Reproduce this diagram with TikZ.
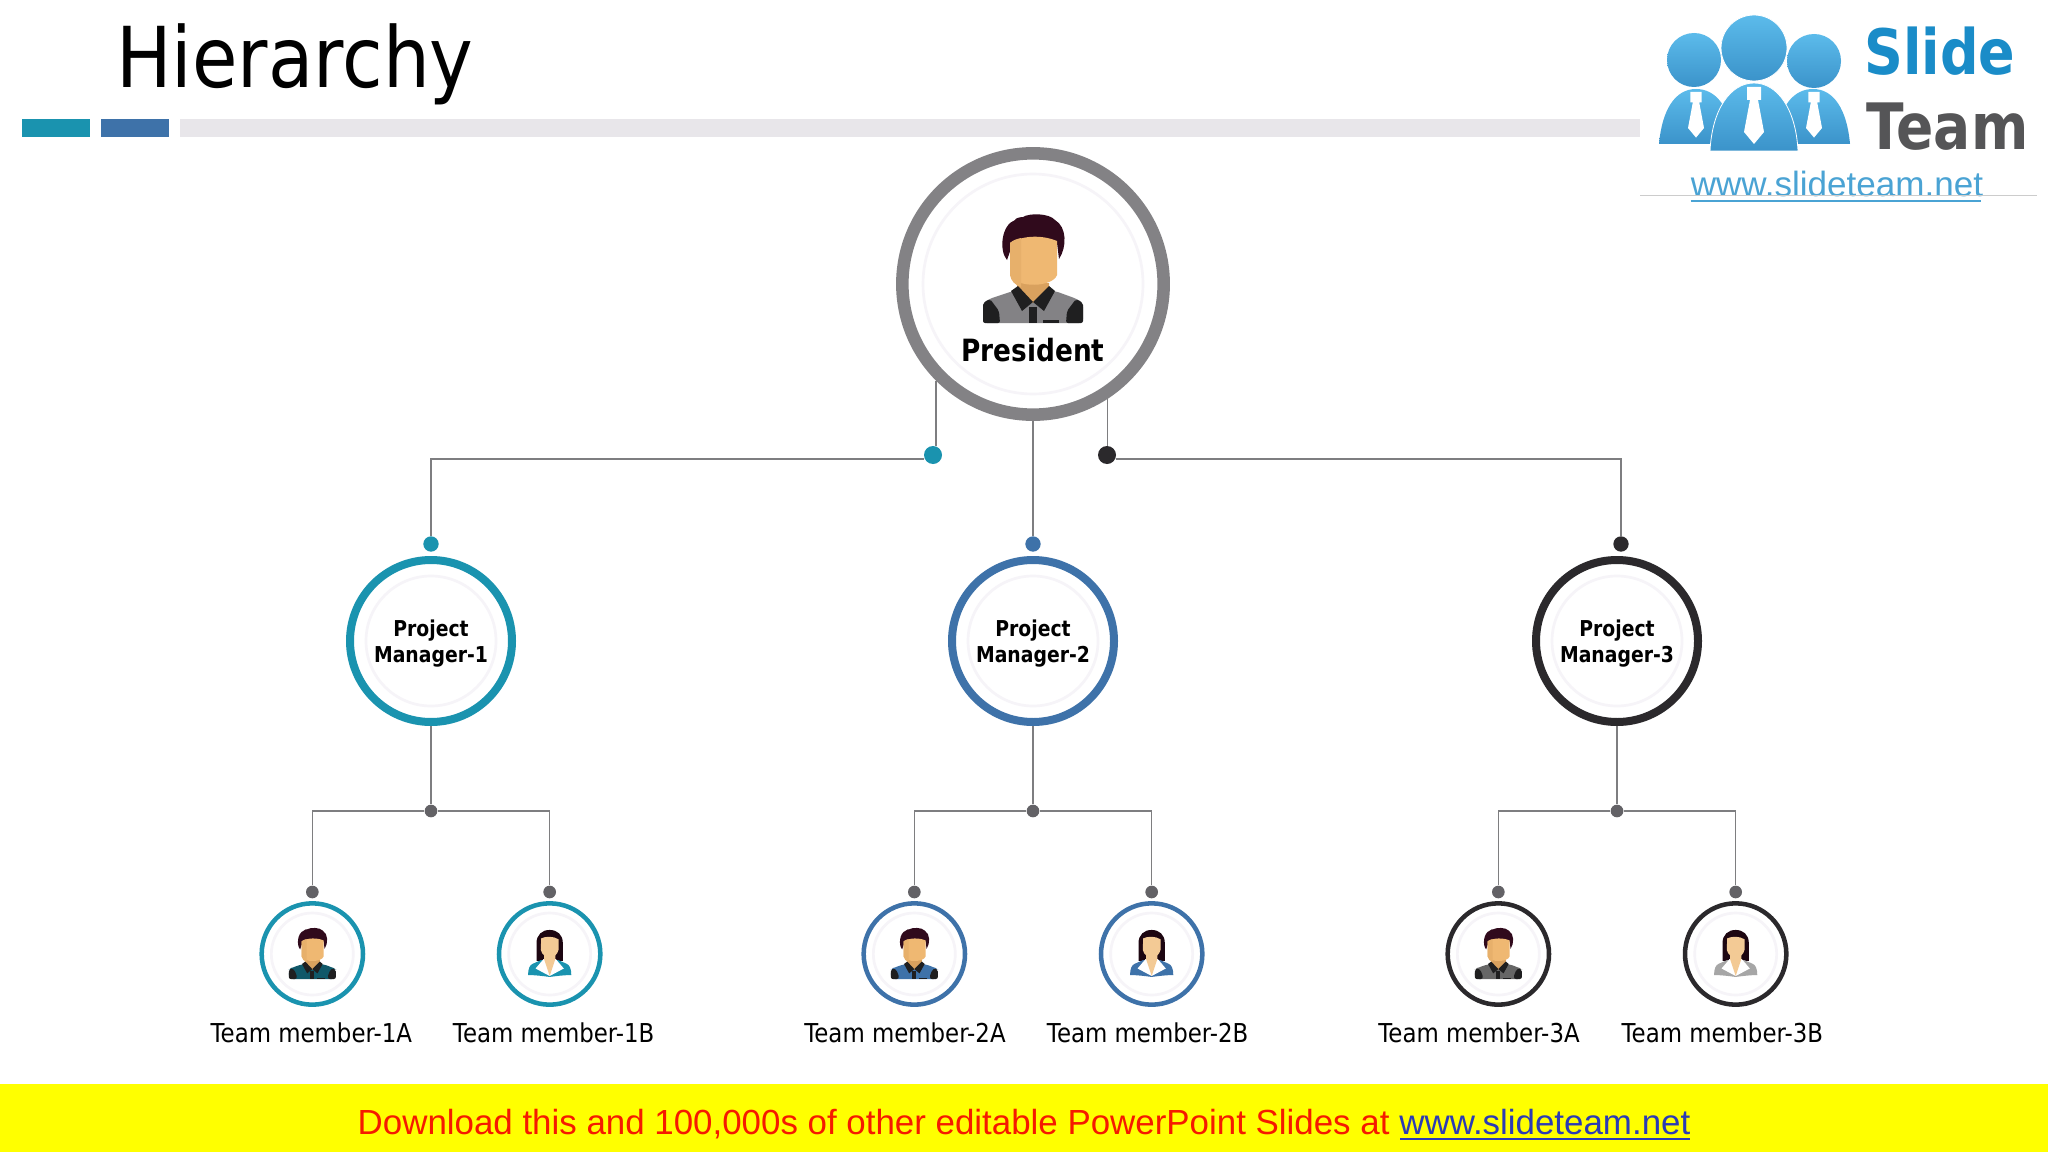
\documentclass[tikz,border=0pt]{standalone}
\usepackage{fontspec}
\usetikzlibrary{positioning}
\newfontfamily\tahfont[FakeStretch=0.88]{DejaVu Sans}
\newfontfamily\tahbold[FakeStretch=0.86]{DejaVu Sans Bold}
\newfontfamily\arialfont{Liberation Sans}
\definecolor{tealc}{HTML}{1A93AF}
\definecolor{bluec}{HTML}{3E72A9}
\definecolor{darkc}{HTML}{2B292C}
\definecolor{grayc}{HTML}{838285}
\definecolor{barc}{HTML}{E8E6EA}
\definecolor{linec}{HTML}{7E7E80}
\definecolor{dotc}{HTML}{636266}
\definecolor{ringc}{HTML}{F6F4F8}
\definecolor{skinc}{HTML}{EFB872}
\definecolor{neckc}{HTML}{D9A15E}
\definecolor{hairc}{HTML}{300A1C}
\definecolor{shirtd}{HTML}{1F1F20}
\definecolor{logoa}{HTML}{5CBBEB}
\definecolor{logob}{HTML}{3B93CA}
\definecolor{slidec}{HTML}{1A8CC8}
\definecolor{teamc}{HTML}{555557}
\definecolor{urlc}{HTML}{4AA3D4}
\definecolor{footy}{HTML}{FFFF00}
\definecolor{footr}{HTML}{F51A00}
\definecolor{footb}{HTML}{2B3BB5}
\tikzset{
	pics/manicon/.style={code={
		\fill[#1, rounded corners=3pt] (-50,0) -- (-50,-20) -- (-44,-24) -- (-20,-32) -- (22,-32) -- (44,-24) -- (50,-20) -- (50,0) -- cycle;
		\fill[shirtd, rounded corners=1.5pt] (-50,0) -- (-50,-20) -- (-43,-24) -- (-34,-12) -- (-33,0) -- cycle;
		\fill[shirtd, rounded corners=1.5pt] (50,0) -- (50,-20) -- (43,-24) -- (34,-12) -- (33,0) -- cycle;
		\fill[neckc] (-16,-40) -- (16,-40) -- (16,-30) -- (0,-20) -- (-16,-30) -- cycle;
		\fill[shirtd] (-22,-32) -- (-15,-37) -- (0,-21) -- (-11,-12) -- cycle;
		\fill[shirtd] (22,-32) -- (16,-37) -- (0,-21) -- (11,-12) -- cycle;
		\fill[shirtd] (-4,-16) -- (4,-16) -- (4,0) -- (-4,0) -- cycle;
		\fill[shirtd] (10,-3) rectangle (26,0);
		\fill[hairc] (-26,-63) .. controls (-34,-72) and (-32,-98) .. (-18,-103) .. controls (-18,-105) and (-12,-106) .. (-10,-106) .. controls (-4,-110) and (16,-110) .. (22,-103) .. controls (34,-96) and (34,-76) .. (26,-64) -- (24,-80) -- (-20,-80) -- cycle;
		\fill[skinc] (-23,-80) .. controls (-10,-88) and (10,-88) .. (24,-82) -- (24,-48) .. controls (20,-36) and (-16,-34) .. (-23,-48) -- cycle;
		\fill[neckc!35!skinc] (-23,-80) .. controls (-20,-83) and (-16,-84) .. (-12,-85) -- (-12,-36) .. controls (-18,-38) and (-22,-42) .. (-23,-48) -- cycle;
	}},
	pics/womanicon/.style={code={
		\fill[hairc!60!black] (-28,-32) -- (-28,-70) .. controls (-28,-88) and (-16,-98) .. (0,-98) .. controls (16,-98) and (28,-88) .. (28,-70) -- (28,-32) -- cycle;
		\fill[#1] (-46,-2) .. controls (-46,-16) and (-42,-24) .. (-36,-26) -- (-18,-34) -- (18,-34) -- (36,-26) .. controls (42,-24) and (46,-16) .. (46,-2) .. controls (30,-2) and (15,0) .. (0,2) .. controls (-15,0) and (-30,-2) .. (-46,-2) -- cycle;
		\fill[white] (-30,-16) -- (-13,-36) -- (13,-36) -- (30,-16) -- (0,0) -- cycle;
		\fill[skinc!75!white] (-12,-50) -- (12,-50) -- (12,-36) -- (0,0) -- (-12,-36) -- cycle;
		\fill[skinc!75!white] (-18,-80) .. controls (-8,-85) and (8,-85) .. (19,-78) -- (19,-56) .. controls (14,-34) and (-14,-34) .. (-19,-56) -- cycle;
	}},
	pics/logotie/.style={code={
		\fill[white] (-7,0) -- (7,0) -- (7,13) -- (4,13) -- (10,45) -- (0,57) -- (-10,45) -- (-4,13) -- (-7,13) -- cycle;
	}},
	presring/.style={circle, draw=grayc, line width=9.4pt, fill=white, minimum size=196pt, inner sep=0pt},
	pmring/.style={circle, draw=#1, line width=6pt, fill=white, minimum size=121.5pt, inner sep=0pt},
	pmtext/.style={align=center, inner sep=0pt, font=\fontsize{16.4}{19.5}\selectfont\tahbold},
	tmring/.style={circle, draw=#1, line width=3.4pt, fill=white, minimum size=76pt, inner sep=0pt},
	faint/.style={draw=ringc, line width=2pt},
	conn/.style={draw=linec, line width=1.2pt},
	dotb/.style={circle, fill=#1, inner sep=0pt, minimum size=13.5pt},
	dots/.style={circle, fill=#1, inner sep=0pt, minimum size=9.5pt},
	tmlabel/.style={font=\fontsize{19.5}{22}\selectfont\tahfont, text=black, inner sep=0pt},
}

\begin{document}
\begin{tikzpicture}[x=0.75pt, y=-0.75pt, on grid]
	\useasboundingbox (0,0) rectangle (2048,1152);
	\fill[white] (0,0) rectangle (2048,1152);

	% header
	\node[font=\fontsize{63}{70}\selectfont\tahfont, text=black, inner sep=0pt, anchor=base west] (title) at (116,88) {Hierarchy};
	\node[fill=tealc, minimum width=51pt, minimum height=13.5pt, inner sep=0pt, anchor=north west] (bara) at (22,119) {};
	\node[fill=bluec, minimum width=51pt, minimum height=13.5pt, inner sep=0pt, anchor=north west] (barb) at (101,119) {};
	\node[fill=barc, minimum width=1095pt, minimum height=13.5pt, inner sep=0pt, anchor=north west] (barc) at (180,119) {};

	% logo
	\shade[top color=logoa, bottom color=logob] (1659,144) .. controls (1662,110) and (1675,89) .. (1696,89) .. controls (1715,89) and (1730,105) .. (1735,144) -- cycle;
	\shade[top color=logoa, bottom color=logob] (1850,144) .. controls (1847,110) and (1834,89) .. (1813,89) .. controls (1794,89) and (1779,105) .. (1774,144) -- cycle;
	\shade[top color=logoa, bottom color=logob, draw=white, line width=.6pt] (1710,151) .. controls (1712,110) and (1730,83) .. (1754,83) .. controls (1778,83) and (1796,110) .. (1798,151) -- cycle;
	\shade[top color=logoa, bottom color=logob] (1694,60) circle (27);
	\shade[top color=logoa, bottom color=logob] (1814,61) circle (27);
	\shade[top color=logoa, bottom color=logob, draw=white, line width=.6pt] (1754,48) circle (33);
	\pic at (1754,87) {logotie};
	\pic[scale=.8] at (1696,92) {logotie};
	\pic[scale=.8] at (1814,92) {logotie};
	\node[font=\fontsize{47}{50}\selectfont\tahbold, text=slidec, inner sep=0pt, anchor=base west] (slide) at (1864,75) {Slide};
	\node[font=\fontsize{48}{50}\selectfont\tahbold, text=teamc, inner sep=0pt, anchor=base west] (team) at (1866,150) {Team};
	\node[font=\fontsize{26.3}{30}\selectfont\arialfont, text=urlc, inner sep=0pt, anchor=base] (url) at (1837,196) {www.slideteam.net};
	\draw[urlc, line width=1.5pt] (url.base west) ++(0,5) -- ++(290,0);
	\draw[black!20, line width=.6pt] (1640,195) -- (2037,195);

	% president
	\node[presring] (pres) at (1033,284) {};
	\draw[faint] (pres.center) circle (110);
	\pic at ([yshift=-29.25pt]pres.center) {manicon=grayc};
	\node[font=\fontsize{23}{24}\selectfont\tahbold, text=black, inner sep=0pt] (prestxt) [below=49.5pt of pres] {President};

	% managers
	\node[pmring=tealc] (pm1) at (431,641) {};
	\node[pmring=bluec] (pm2) at (1033,641) {};
	\node[pmring=darkc] (pm3) at (1617,641) {};
	\draw[faint] (pm1.center) circle (65);
	\draw[faint] (pm2.center) circle (65);
	\draw[faint] (pm3.center) circle (65);
	\node[pmtext] (pm1txt) [below=2pt of pm1] {Project\\Manager-1};
	\node[pmtext] (pm2txt) [below=2pt of pm2] {Project\\Manager-2};
	\node[pmtext] (pm3txt) [below=2pt of pm3] {Project\\Manager-3};

	% dots over the managers
	\node[dots=tealc, minimum size=11.5pt] (top1) at (431,544) {};
	\node[dots=bluec, minimum size=11.5pt] (top2) at (1033,544) {};
	\node[dots=darkc, minimum size=11.5pt] (top3) at (1621,544) {};
	\node[dotb=tealc] (outl) at (933,455) {};
	\node[dotb=darkc] (outr) at (1107,455) {};
	\coordinate (elbl) at (933,459);
	\coordinate (elbr) at (1107,459);

	% president connectors
	\path[conn]
		(pres.225.5) -- (pres.225.5 |- outl.north)
		(pres.south) -- (top2)
		(pres.-57.3) -- (pres.-57.3 |- outr.north)
		(top1) |- (elbl -| outl.west)
		(top3) |- (elbr -| outr.east);

	% team members
	\node[tmring=tealc] (tm1a) [below=234.75pt of pm1, xshift=-89pt] {};
	\node[tmring=tealc] (tm1b) [right=178pt of tm1a] {};
	\node[tmring=bluec] (tm2a) [below=234.75pt of pm2, xshift=-89pt] {};
	\node[tmring=bluec] (tm2b) [right=178pt of tm2a] {};
	\node[tmring=darkc] (tm3a) [below=234.75pt of pm3, xshift=-89pt] {};
	\node[tmring=darkc] (tm3b) [right=178pt of tm3a] {};
	\draw[faint] (tm1a.center) circle (41);
	\draw[faint] (tm1b.center) circle (41);
	\draw[faint] (tm2a.center) circle (41);
	\draw[faint] (tm2b.center) circle (41);
	\draw[faint] (tm3a.center) circle (41);
	\draw[faint] (tm3b.center) circle (41);

	\pic[scale=.47] at ([yshift=-18.75pt]tm1a.center) {manicon={tealc!60!black}};
	\pic[scale=.47] at ([yshift=-16.5pt]tm1b.center) {womanicon=tealc};
	\pic[scale=.47] at ([yshift=-18.75pt]tm2a.center) {manicon=bluec};
	\pic[scale=.47] at ([yshift=-16.5pt]tm2b.center) {womanicon=bluec};
	\pic[scale=.47] at ([yshift=-18.75pt]tm3a.center) {manicon=black!60};
	\pic[scale=.47] at ([yshift=-16.5pt]tm3b.center) {womanicon=black!35};

	\node[tmlabel] (lb1a) [below=59.25pt of tm1a, xshift=-.75pt] {Team member-1A};
	\node[tmlabel] (lb1b) [below=59.25pt of tm1b, xshift=3pt] {Team member-1B};
	\node[tmlabel] (lb2a) [below=59.25pt of tm2a, xshift=-7pt] {Team member-2A};
	\node[tmlabel] (lb2b) [below=59.25pt of tm2b, xshift=-3pt] {Team member-2B};
	\node[tmlabel] (lb3a) [below=59.25pt of tm3a, xshift=-14.5pt] {Team member-3A};
	\node[tmlabel] (lb3b) [below=59.25pt of tm3b, xshift=-10pt] {Team member-3B};

	% junctions and their stubs
	\node[dots=dotc] (jn1) [below=127.5pt of pm1] {};
	\node[dots=dotc] (jn2) [below=127.5pt of pm2] {};
	\node[dots=dotc] (jn3) [below=127.5pt of pm3] {};
	\node[dots=dotc] (st1a) [above=46.5pt of tm1a] {};
	\node[dots=dotc] (st1b) [above=46.5pt of tm1b] {};
	\node[dots=dotc] (st2a) [above=46.5pt of tm2a] {};
	\node[dots=dotc] (st2b) [above=46.5pt of tm2b] {};
	\node[dots=dotc] (st3a) [above=46.5pt of tm3a] {};
	\node[dots=dotc] (st3b) [above=46.5pt of tm3b] {};
	\path[conn]
		(pm1) -- (jn1) (pm2) -- (jn2) (pm3) -- (jn3)
		(jn1) -| (st1a) (jn1) -| (st1b)
		(jn2) -| (st2a) (jn2) -| (st2b)
		(jn3) -| (st3a) (jn3) -| (st3b);

	% footer
	\fill[footy] (0,1084) rectangle (2048,1152);
	\node[font=\fontsize{26.17}{30}\selectfont\arialfont, inner sep=0pt, anchor=base] (foot) at (1024,1134.5) {\textcolor{footr}{Download this and 100,000s of other editable PowerPoint Slides at }\textcolor{footb}{www.slideteam.net}};
	\draw[footb, line width=1.5pt] (1400,1139) -- (1690,1139);
\end{tikzpicture}
\end{document}
